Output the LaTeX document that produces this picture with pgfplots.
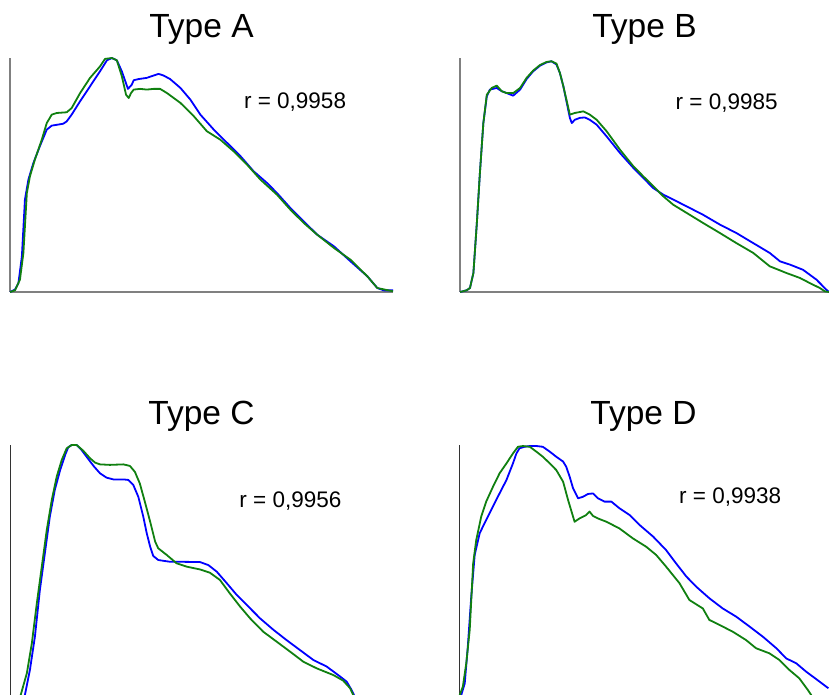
\documentclass[border=0pt]{standalone}
\usepackage{pgfplots}
\pgfplotsset{compat=1.18}
\usepackage{fontspec}
\setmainfont{Liberation Sans}

\definecolor{curveblue}{RGB}{0,0,255}
\definecolor{curvegreen}{RGB}{16,128,16}
\definecolor{axisgray}{RGB}{128,128,128}

\pgfplotsset{
  panel/.style={
    scale only axis, width=383bp, height=234bp,
    xmin=0, xmax=100, ymin=0, ymax=100,
    axis lines*=left, xtick=\empty, ytick=\empty,
    axis line style={axisgray, line width=1.5bp},
    clip=false,
    title style={font=\fontsize{33.5bp}{40bp}\selectfont, anchor=base,
                 at={(0.5,1)}, yshift=15bp},
  },
  lower/.style={height=255bp, axis line style={black!80, line width=0.9bp}},
  meas/.style={curveblue, line width=1.8bp, line join=round},
  model/.style={curvegreen, line width=1.8bp, line join=round},
}
\newcommand{\rfont}{\fontsize{22.5bp}{27bp}\selectfont}

\begin{document}
\begin{tikzpicture}
\useasboundingbox (0,0) rectangle (829bp,695bp);
\clip (0,0) rectangle (829bp,695bp);

% ---------- Type A ----------
\begin{axis}[panel, at={(10bp,403bp)}, anchor=south west, title={Type A}]
\addplot[meas] coordinates {
(0,0) (1.3,1.0) (2.2,3.8) (3.1,15.2) (3.9,39.5) (4.8,48.0) (6.1,55.1) (7.8,62.3)
(9.6,69.4) (10.9,71.1) (13.9,71.9) (14.8,72.9) (16.1,75.8) (18.3,81.5) (20.9,87.9)
(23.5,94.3) (25.3,99.0) (26.6,100) (27.9,99.0) (29.2,94.3) (30.8,86.8) (31.8,88.6)
(32.3,90.5) (33.6,91.0) (35.7,91.5) (37.5,92.5) (38.8,93.2) (40.1,92.5) (41.8,91.0)
(44.5,87.2) (47.1,82.2) (49.7,75.8) (53.2,69.4) (56.7,63.7) (60.2,58.0) (63.6,51.6)
(67.1,46.6) (69.7,42.3) (73.2,35.9) (76.7,30.2) (80.2,24.5) (84.6,19.5) (88.9,13.1)
(93.3,6.7) (95.9,1.7) (97.6,0.7) (100,0.7)
};
\addplot[model] coordinates {
(0,0) (1.3,0.7) (2.6,5.3) (3.5,16.7) (4.4,42.3) (5.2,49.4) (6.5,56.6) (8.3,65.1)
(9.6,72.2) (10.9,75.8) (12.2,76.5) (14.8,76.8) (16.1,78.6) (18.3,85.0) (20.9,91.5)
(23.5,96.4) (24.8,99.6) (26.6,100) (27.9,99.0) (29.2,92.2) (30.3,84.3) (31.0,82.9)
(31.6,85.0) (32.3,86.5) (34.0,86.8) (35.7,86.5) (37.5,86.8) (39.2,86.8) (41.0,85.0)
(44.5,80.8) (48.0,75.1) (51.4,68.7) (54.9,65.1) (58.4,60.1) (61.9,54.4) (65.4,48.0)
(69.7,41.6) (73.2,35.2) (76.7,29.5) (80.2,24.5) (84.6,18.8) (88.9,13.8) (93.3,6.7)
(95.9,1.7) (100,0.3)
};
\node[anchor=base west, font=\rfont] at (rel axis cs:0.602,0.786) {r = 0,9958};
\end{axis}

% ---------- Type B ----------
\begin{axis}[panel, at={(460bp,403bp)}, anchor=south west, width=369bp,
  xmax=96.4, title={Type B}]
\addplot[meas] coordinates {
(0,0) (1.7,0.7) (2.6,1.7) (3.5,8.1) (4.4,29.5) (5.2,50.9) (6.1,72.2) (7.0,83.6)
(7.8,86.5) (9.6,87.2) (10.9,85.8) (12.2,85.0) (13.9,83.9) (15.7,86.5) (17.4,91.0)
(19.1,94.3) (20.9,96.7) (22.6,98.1) (23.9,98.6) (25.2,97.2) (26.1,93.6) (27.0,87.9)
(27.9,80.8) (28.7,74.4) (29.2,72.2) (30.0,73.6) (31.3,74.4) (32.6,74.6) (33.9,73.6)
(35.7,71.5) (38.3,66.5) (41.8,59.4) (45.3,53.0) (47.9,48.7) (50.5,44.4) (53.1,41.6)
(55.7,39.5) (59.2,36.6) (63.5,33.0) (67.9,28.8) (72.2,25.2) (76.6,20.9) (80.9,16.7)
(83.6,13.1) (86.2,11.7) (89.6,9.5) (93.1,5.3) (95.7,1.0) (96.4,0)
};
\addplot[model] coordinates {
(0,0) (1.7,0.7) (2.6,1.7) (3.5,8.1) (4.4,29.5) (5.2,50.9) (6.1,72.2) (7.0,84.3)
(8.3,87.2) (9.6,88.2) (10.9,85.8) (12.2,85.0) (13.9,85.0) (15.7,87.2) (17.4,91.5)
(19.1,94.6) (20.9,97.0) (22.6,98.3) (23.9,98.6) (25.2,97.6) (26.1,93.6) (27.0,87.9)
(27.9,81.5) (28.7,75.8) (30.0,76.5) (32.2,77.2) (33.9,75.8) (35.7,73.6) (38.3,68.7)
(41.8,60.8) (45.3,53.7) (47.9,49.4) (50.5,45.2) (53.1,40.9) (55.7,37.3) (59.2,33.8)
(63.5,29.5) (67.9,25.2) (72.2,20.9) (76.6,16.7) (80.9,11.0) (85.3,8.1) (88.8,6.0)
(91.4,3.8) (94.0,1.7) (95.3,0.3) (96.4,0)
};
\node[anchor=base west, font=\rfont] at (rel axis cs:0.575,0.778) {r = 0,9985};
\end{axis}

% ---------- Type C ----------
\begin{axis}[panel, lower, at={(10bp,-5bp)}, anchor=south west, title={Type C}]
\addplot[meas] coordinates {
(0,0) (3.3,0) (3.9,2.0) (5.2,11.8) (6.5,24.8) (7.8,43.1) (9.1,57.5) (10.4,71.9)
(11.7,82.4) (13.1,90.2) (14.4,96.1) (15.2,99.1) (16.1,100) (17.4,100) (18.7,98.0)
(20.0,95.4) (21.8,91.8) (23.5,88.9) (25.2,87.2) (27.0,86.5) (29.6,86.5) (30.9,86.3)
(32.2,84.3) (33.5,79.7) (34.8,71.9) (35.7,65.4) (36.6,60.1) (37.4,56.5) (38.7,54.9)
(40.0,54.6) (41.8,54.2) (44.4,54.2) (49.6,54.1) (51.8,52.9) (54.0,50.3) (56.6,45.8)
(59.2,41.2) (61.8,37.3) (65.3,32.0) (68.8,27.5) (72.2,23.5) (75.7,19.6) (79.2,15.7)
(82.7,13.1) (86.2,9.2) (87.9,7.2) (89.2,3.9) (89.8,2.0) (90.3,0) (100,0)
};
\addplot[model] coordinates {
(0,0) (2.5,0) (2.8,2.0) (4.4,10.5) (5.7,22.2) (7.0,37.9) (8.3,52.3) (9.6,66.7)
(10.9,78.4) (12.2,87.6) (13.5,94.1) (14.8,98.7) (16.1,100) (17.4,100) (19.1,97.8)
(20.9,94.8) (22.2,93.1) (23.5,92.4) (26.1,92.2) (29.6,92.4) (31.3,91.8) (32.6,89.5)
(33.9,84.9) (35.2,77.8) (36.6,69.9) (37.9,62.1) (38.7,59.5) (40.9,56.9) (43.5,53.6)
(46.1,52.3) (49.6,51.2) (52.2,49.9) (54.8,47.1) (57.4,41.8) (60.1,36.6) (62.7,32.0)
(66.1,26.8) (69.6,22.9) (73.1,19.0) (76.6,15.0) (80.1,12.4) (84.4,9.8) (87.0,7.6)
(88.8,4.6) (89.6,2.0) (89.9,0) (100,0)
};
\node[anchor=base west, font=\rfont] at (rel axis cs:0.59,0.753) {r = 0,9956};
\end{axis}

% ---------- Type D ----------
\begin{axis}[panel, lower, at={(459bp,-5bp)}, anchor=south west, width=369bp,
  xmax=96.4, title={Type D}]
\addplot[meas] coordinates {
(0,0) (0.4,0) (0.6,2.0) (1.5,6.5) (2.3,20.9) (3.2,40.5) (4.1,56.9) (5.4,65.4)
(7.1,70.6) (9.7,78.4) (12.4,86.3) (14.1,92.8) (15.0,96.7) (15.8,98.7) (17.1,99.3)
(18.5,99.6) (20.2,99.6) (21.9,99.3) (23.7,97.4) (25.4,95.4) (27.2,93.5) (28.0,91.5)
(28.9,87.6) (29.8,83.0) (31.1,79.1) (32.4,79.7) (33.7,80.8) (35.0,81.0) (36.3,79.1)
(38.0,77.8) (39.8,77.8) (41.9,75.2) (44.6,72.5) (47.2,68.6) (50.7,64.1) (54.1,58.8)
(56.7,53.6) (59.4,48.4) (62.0,44.4) (65.4,39.9) (68.9,35.9) (72.4,32.7) (75.9,28.8)
(79.4,24.8) (82.9,20.3) (85.5,16.3) (88.1,14.4) (90.7,11.1) (94.2,7.2) (96.5,4.6)
};
\addplot[model] coordinates {
(0,0) (0.2,2.0) (1.0,5.2) (1.9,14.4) (2.8,27.5) (3.7,53.6) (4.5,62.7) (5.8,71.9)
(7.1,77.8) (8.9,83.7) (10.6,88.9) (12.4,92.8) (14.1,96.7) (15.4,99.3) (16.7,99.6)
(18.5,99.3) (20.2,97.4) (21.9,95.4) (23.7,92.8) (25.4,90.2) (27.2,85.6) (28.5,78.4)
(29.8,71.9) (30.2,69.9) (31.5,71.2) (33.2,72.5) (34.1,73.9) (35.0,72.2) (36.3,71.2)
(38.5,69.9) (41.9,67.3) (45.4,63.4) (48.9,60.1) (51.5,56.9) (54.1,52.3) (57.6,45.8)
(60.2,39.2) (63.7,35.9) (65.4,31.4) (68.1,29.4) (71.5,26.8) (75.0,23.5) (77.6,20.3)
(81.1,18.3) (83.7,15.7) (86.3,11.8) (88.9,8.5) (91.1,4.0) (92.0,2.0) (92.5,0) (96.4,0)
};
\node[anchor=base west, font=\rfont] at (rel axis cs:0.587,0.769) {r = 0,9938};
\end{axis}
\end{tikzpicture}
\end{document}
